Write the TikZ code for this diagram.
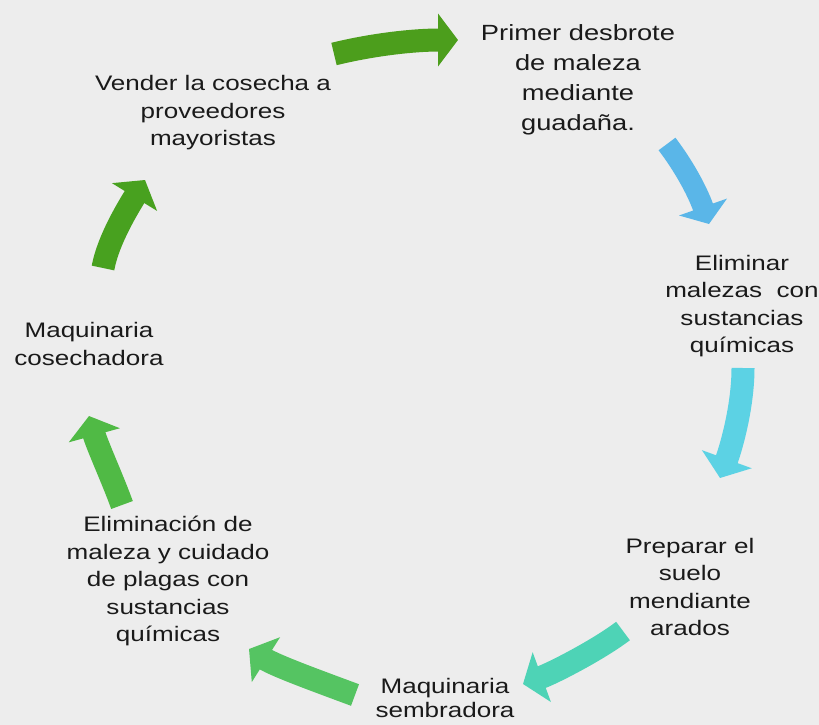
\documentclass[tikz,border=0pt]{standalone}
\usepackage{fontspec}
\setmainfont[FakeStretch=1.24]{Liberation Sans}
\usetikzlibrary{arrows.meta}
\definecolor{bg}{HTML}{EDEDED}
\definecolor{txt}{HTML}{1A1A1A}
\definecolor{cA}{HTML}{4C9E1C}
\definecolor{cB}{HTML}{5AB6E8}
\definecolor{cC}{HTML}{5CD2E4}
\definecolor{cD}{HTML}{4ED3B6}
\definecolor{cE}{HTML}{55C462}
\definecolor{cF}{HTML}{50BA45}
\definecolor{cG}{HTML}{48A11F}
\tikzset{
  lbl/.style={align=center, text=txt, font=\fontsize{21}{27.5}\selectfont, inner sep=0pt},
  blk/.style={line width=23pt, -{Triangle[length=20pt, width=52pt]}}
}
\begin{document}
\begin{tikzpicture}[x=1pt, y=-1pt]
\fill[bg] (0,0) rectangle (819,725);
\useasboundingbox (0,0) rectangle (819,725);
% texts
\node[lbl] (t1) at (213,113) {Vender la cosecha a\\proveedores\\mayoristas};
\node[lbl, font=\fontsize{22}{30}\selectfont] (t2) at (578,80) {Primer desbrote\\de maleza\\mediante\\guadaña.};
\node[lbl] (t3) at (742,306) {Eliminar\\malezas\ \ con\\sustancias\\químicas};
\node[lbl] (t4) at (690,587) {Preparar el\\suelo\\mendiante\\arados};
\node[lbl, font=\fontsize{21}{24}\selectfont] (t5) at (445,698) {Maquinaria\\sembradora};
\node[lbl] (t6) at (168,581) {Eliminación de\\maleza y cuidado\\de plagas con\\sustancias\\químicas};
\node[lbl] (t7) at (89,344) {Maquinaria\\cosechadora};
% arrow ends
\coordinate (a1s) at (334,54);  \coordinate (a1e) at (458,40);
\coordinate (a2s) at (667,144); \coordinate (a2e) at (709,224);
\coordinate (a3s) at (743,368); \coordinate (a3e) at (720,478);
\coordinate (a4s) at (623,631); \coordinate (a4e) at (523,684);
\coordinate (a5s) at (355,695); \coordinate (a5e) at (249,649);
\coordinate (a6s) at (122,505); \coordinate (a6e) at (89,416);
\coordinate (a7s) at (103,268); \coordinate (a7e) at (145,180);
\draw[blk, cA] (a1s) .. controls (375,44) and (415,40) .. (a1e);
\draw[blk, cB, line width=21pt, -{Triangle[length=18pt, width=50pt]}] (a2s) .. controls (683,165) and (697,190) .. (a2e);
\draw[blk, cC] (a3s) .. controls (743,405) and (732,445) .. (a3e);
\draw[blk, cD] (a4s) .. controls (598,650) and (553,673) .. (a4e);
\draw[blk, cE] (a5s) .. controls (320,682) and (276,666) .. (a5e);
\draw[blk, cF] (a6s) .. controls (113,480) and (97,445) .. (a6e);
\draw[blk, cG] (a7s) .. controls (108,240) and (129,206) .. (a7e);
\end{tikzpicture}
\end{document}
